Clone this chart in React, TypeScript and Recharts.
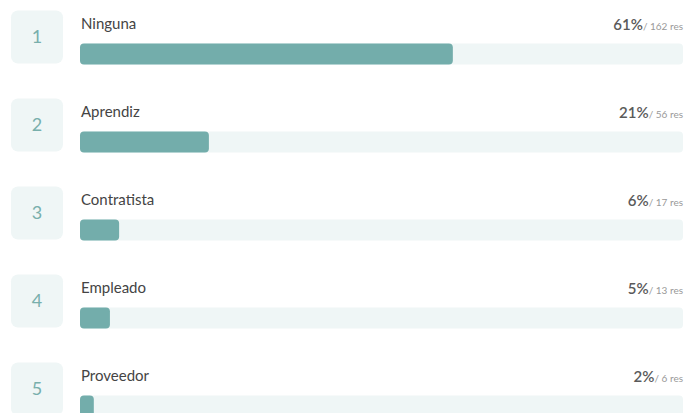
import { Bar, BarChart, LabelList, XAxis, YAxis } from "recharts";

const categories = ["Ninguna", "Aprendiz", "Contratista", "Empleado", "Proveedor"];
const responses = [162, 56, 17, 13, 6];
const percents = [61, 21, 6, 5, 2];
const totalResponses = 262;

const data = categories.map((name, i) => ({
  rank: i + 1,
  name,
  count: responses[i],
  percent: percents[i],
}));

const CHART_W = 684;
const ROW_H = 88;
const LEFT = 80;
const RIGHT = 1;
const FONT = "Lato, 'Noto Sans', sans-serif";

function RowLabel(props: any) {
  const { x, y, index } = props;
  const row = data[index];
  if (!row) return null;
  const top = Number(y);
  const left = Number(x);
  const right = CHART_W - RIGHT;
  return (
    <g>
      <rect
        x={left - 69}
        y={top - 33}
        width={52}
        height={53}
        rx={7}
        fill="#eff6f6"
      />
      <text
        x={left - 43}
        y={top - 0.5}
        textAnchor="middle"
        fontFamily={FONT}
        fontSize={18}
        fill="#78afac"
      >
        {row.rank}
      </text>
      <text
        x={left + 1}
        y={top - 15}
        fontFamily={FONT}
        fontSize={15}
        fill="#444"
      >
        {row.name}
      </text>
      <text
        x={right}
        y={top - 14}
        textAnchor="end"
        fontFamily={FONT}
      >
        <tspan fontSize={15} fontWeight={600} fill="#5a5a5a">
          {row.percent}%
        </tspan>
        <tspan fontSize={10} fill="#999">
          / {row.count} res
        </tspan>
      </text>
    </g>
  );
}

export default function App() {
  return (
    <div style={{ position: "absolute", top: 0, left: 0, width: CHART_W, height: 413, overflow: "hidden", background: "#fff" }}>
      <BarChart
        width={CHART_W}
        height={9.5 + ROW_H * data.length}
        data={data}
        layout="vertical"
        margin={{ top: 9.5, right: RIGHT, bottom: 0, left: LEFT }}
        barCategoryGap={0}
      >
        <XAxis type="number" domain={[0, totalResponses]} hide />
        <YAxis type="category" dataKey="name" hide />
        <Bar
          dataKey="count"
          barSize={21}
          fill="#73adab"
          radius={4}
          background={{ fill: "#eff6f6", radius: 4 }}
          isAnimationActive={false}
        >
          <LabelList dataKey="count" content={RowLabel} />
        </Bar>
      </BarChart>
    </div>
  );
}
